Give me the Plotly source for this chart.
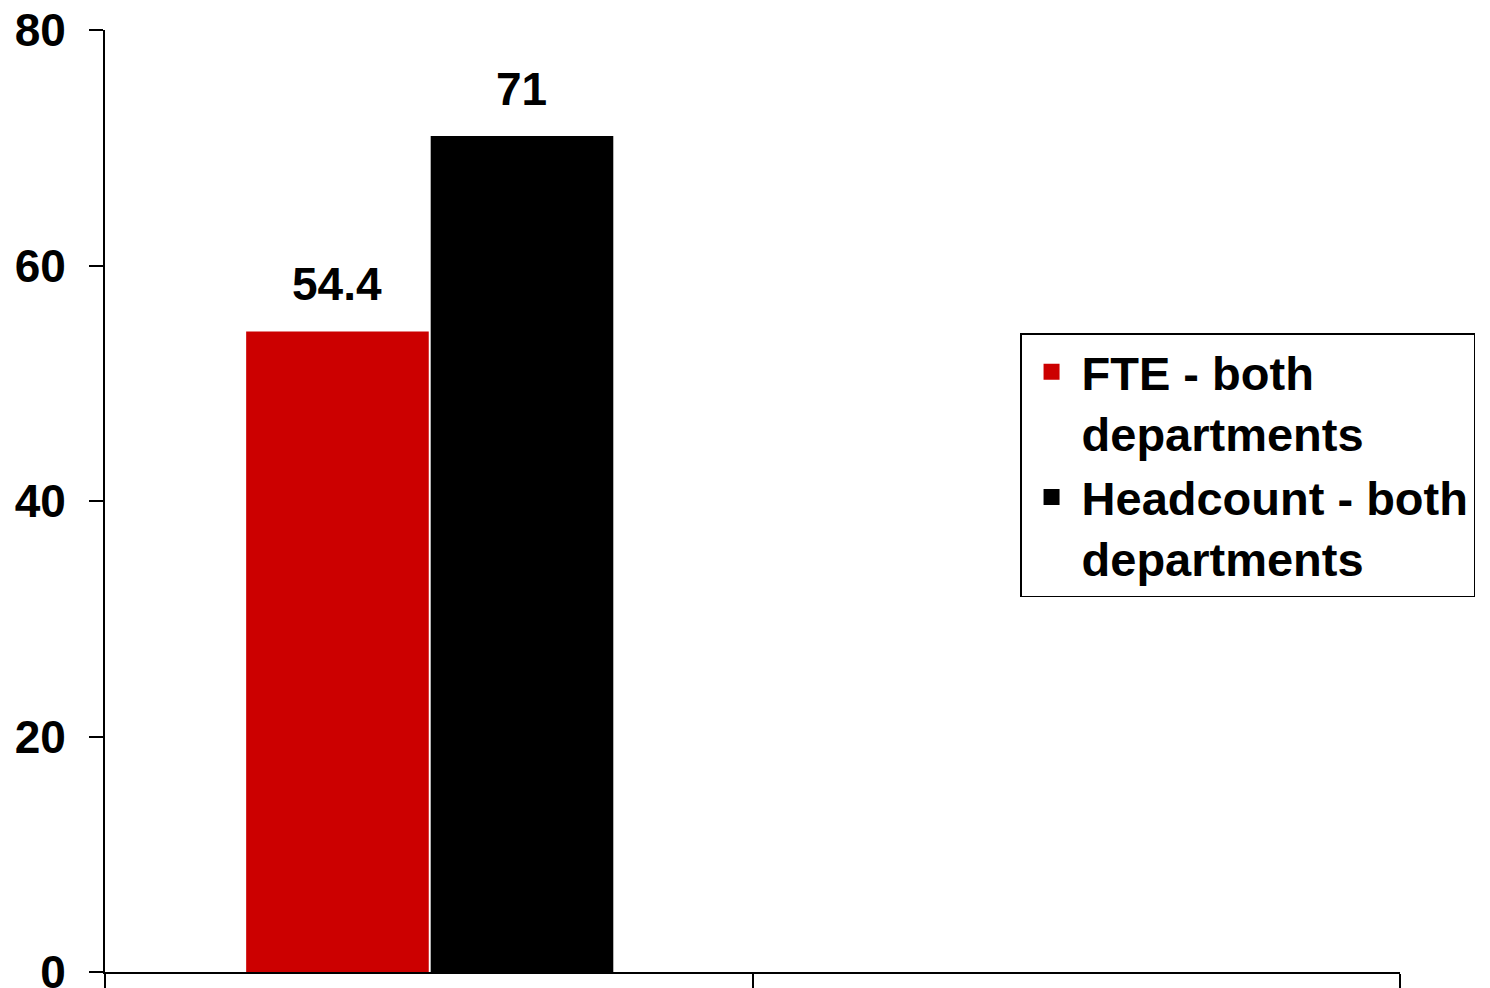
import plotly.graph_objects as go

series_names = ["FTE - both<br>departments", "Headcount - both<br>departments"]
values = [54.4, 71]
colors = ["#CC0000", "#000000"]
y_ticks = [0, 20, 40, 60, 80]
group_x = 0.5

FONT = "Liberation Sans, Arial, sans-serif"

fig = go.Figure()
offsets = [-0.282, 0.003]
for name, v, c, off in zip(series_names, values, colors, offsets):
    fig.add_trace(go.Bar(
        x=[group_x], y=[v], name=name, marker=dict(color=c, line=dict(width=0)),
        width=0.282, offset=off, showlegend=False,
    ))
    fig.add_annotation(
        x=group_x + off + 0.141, y=v, text=str(v), showarrow=False,
        yanchor="bottom", yshift=19,
        font=dict(family=FONT, size=46, color="black", weight="bold"),
    )
    # legend entry
    fig.add_trace(go.Scatter(
        x=[None], y=[None], mode="markers", name=name,
        marker=dict(symbol="square", size=28, color=c),
    ))

fig.update_layout(
    width=1490, height=988,
    margin=dict(l=97, r=98, t=22, b=24, autoexpand=False),
    paper_bgcolor="white", plot_bgcolor="white",
    barmode="overlay",
    showlegend=True,
    legend=dict(
        x=0.7066, y=0.678, xanchor="left", yanchor="top",
        bordercolor="black", borderwidth=1.5, bgcolor="white",
        font=dict(family=FONT, size=47, color="black", weight="bold"),
        valign="top", itemsizing="trace", tracegroupgap=0, itemwidth=50,
    ),
    xaxis=dict(
        range=[0, 2], tickvals=[0, 1, 2], showticklabels=False,
        ticks="outside", ticklen=20, tickwidth=2, tickcolor="black",
        showline=True, linecolor="black", linewidth=2, showgrid=False, zeroline=False,
        automargin=False,
    ),
    yaxis=dict(
        range=[0, 80], tickvals=y_ticks, ticks="outside", ticklen=14, tickwidth=2,
        tickcolor="black", showline=True, linecolor="black", linewidth=2,
        showgrid=False, zeroline=False, automargin=False, ticklabelstandoff=14,
        ticklabeloverflow="allow",
        tickfont=dict(family=FONT, size=46, color="black", weight="bold"),
    ),
)

fig.write_html("out.html")
